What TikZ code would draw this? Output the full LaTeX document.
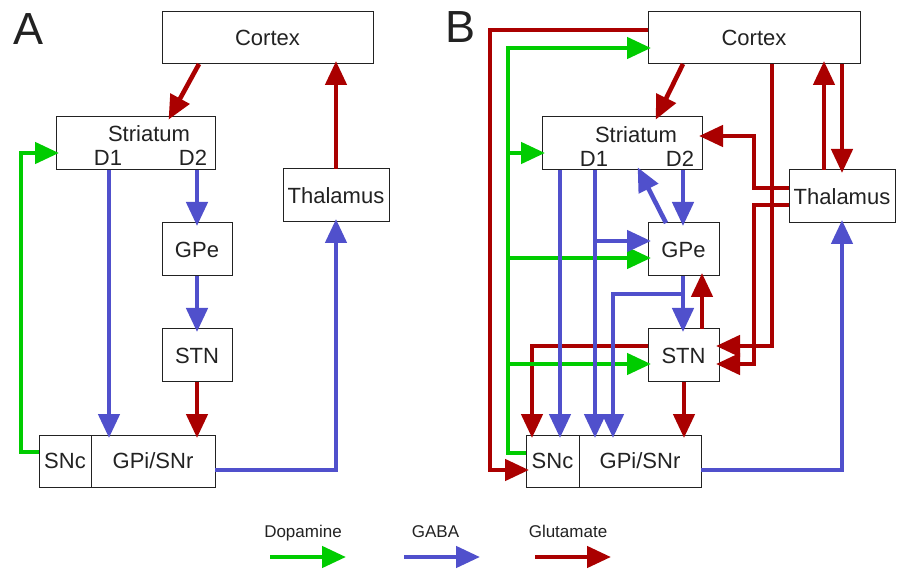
\documentclass[tikz,border=0pt]{standalone}
\usepackage{fontspec}
\setmainfont{Liberation Sans}
\usetikzlibrary{arrows.meta}
\definecolor{dopa}{RGB}{0,204,0}
\definecolor{gaba}{RGB}{80,80,204}
\definecolor{glu}{RGB}{170,0,0}
\definecolor{edge}{RGB}{34,34,34}
\begin{document}
\begin{tikzpicture}[x=1pt,y=-1pt,
  box/.style={draw=edge, line width=1pt, rectangle, inner sep=0pt, outer sep=0pt,
    anchor=north west, font=\fontsize{22}{24}\selectfont, text=edge,
    text height=15.8pt, text depth=0pt},
  lbl/.style={inner sep=0pt, outer sep=0pt, font=\fontsize{22}{24}\selectfont, text=edge,
    text height=15.8pt, text depth=0pt},
  leglbl/.style={inner sep=0pt, anchor=base, font=\fontsize{17}{19}\selectfont, text=edge},
  panel/.style={inner sep=0pt, font=\fontsize{45}{48}\selectfont, text=edge,
    text height=32pt, text depth=0pt},
  conn/.style={line width=4.6pt, -{Triangle[length=24pt,width=21pt]}, shorten >=-3pt},
  plain/.style={line width=4.6pt},
  glu/.style={draw=glu, color=glu},
  dopa/.style={draw=dopa, color=dopa},
  gaba/.style={draw=gaba, color=gaba}]
\useasboundingbox (0,0) rectangle (908,577);
\fill[white] (0,0) rectangle (908,577);

% ---------------- Panel A ----------------
\node[panel] (A-lab) at (29,29) {A};
\node[box, minimum width=211pt, minimum height=52pt] (A-ctx) at (162,12) {Cortex};
\node[box, minimum width=159pt, minimum height=53pt] (A-str) at (56,117) {};
\node[lbl] (A-strl) at (149,133.5) {Striatum};
\node[lbl] (A-d1) at (108,157.5) {D1};
\node[lbl] (A-d2) at (193,157.5) {D2};
\node[box, minimum width=106pt, minimum height=53pt] (A-tha) at (283,169) {Thalamus};
\node[box, minimum width=70pt, minimum height=53pt] (A-gpe) at (162,223) {GPe};
\node[box, minimum width=70pt, minimum height=53pt] (A-stn) at (162,329) {STN};
\node[box, minimum width=52pt, minimum height=52pt] (A-snc) at (39,435) {SNc};
\node[box, minimum width=124pt, minimum height=52pt] (A-gpi) at (91,435) {GPi/SNr};

% glutamate
\draw[conn, glu] (A-ctx.south -| 199,0) -- (A-str.north -| 170,0);
\draw[conn, glu] (A-tha.north) -- (A-ctx.south -| A-tha.north);
\draw[conn, glu] (A-stn.south) -- (A-gpi.north -| A-stn.south);
% dopamine
\draw[conn, dopa] (A-snc.west |- 0,452) -- (21,452) |- (A-str.west |- 0,153);
% GABA
\draw[conn, gaba] (A-str.south -| 109,0) -- (A-gpi.north -| 109,0);
\draw[conn, gaba] (A-str.south -| A-gpe.north) -- (A-gpe.north);
\draw[conn, gaba] (A-gpe.south) -- (A-stn.north);
\draw[conn, gaba] (A-gpi.east |- 0,470) -| (A-tha.south);

% ---------------- Panel B ----------------
\node[panel] (B-lab) at (460.5,27) {B};
\node[box, minimum width=212pt, minimum height=52pt] (B-ctx) at (648,12) {Cortex};
\node[box, minimum width=160pt, minimum height=53pt] (B-str) at (542,117) {};
\node[lbl] (B-strl) at (636,134.5) {Striatum};
\node[lbl] (B-d1) at (594,158.5) {D1};
\node[lbl] (B-d2) at (680,158.5) {D2};
\node[box, minimum width=106pt, minimum height=53pt] (B-tha) at (789,170) {Thalamus};
\node[box, minimum width=71pt, minimum height=53pt] (B-gpe) at (648,223) {GPe};
\node[box, minimum width=71pt, minimum height=53pt] (B-stn) at (648,329) {STN};
\node[box, minimum width=53pt, minimum height=52pt] (B-snc) at (526,435) {SNc};
\node[box, minimum width=122pt, minimum height=52pt] (B-gpi) at (579,435) {GPi/SNr};
\coordinate (B-dtrunk) at (508,0);
\coordinate (B-d1br) at (595,241);
\coordinate (B-gpebr) at (683,294);

% glutamate
\draw[conn, glu] (B-ctx.south -| 683,0) -- (B-str.north -| 657,0);
\draw[conn, glu] (B-ctx.west |- 0,30) -| (490,470) -- (B-snc.west |- 0,470);
\draw[conn, glu] (B-ctx.south -| 772,0) |- (B-stn.east |- 0,346);
\draw[conn, glu] (B-ctx.south -| 842,0) -- (B-tha.north -| 842,0);
\draw[conn, glu] (B-tha.north -| 824,0) -- (B-ctx.south -| 824,0);
\draw[conn, glu] (B-tha.west |- 0,188) -| (754,136) -- (B-str.east |- 0,136);
\draw[conn, glu] (B-tha.west |- 0,205) -| (754,364) -- (B-stn.east |- 0,364);
\draw[conn, glu] (B-stn.north -| 702,0) -- (B-gpe.south -| 702,0);
\draw[conn, glu] (B-stn.west |- 0,346) -| (B-snc.north -| 532,0);
\draw[conn, glu] (B-stn.south -| 684,0) -- (B-gpi.north -| 684,0);
% dopamine
\draw[conn, dopa] (B-snc.west |- 0,453) -| (B-dtrunk |- 0,48) -- (B-ctx.west |- 0,48);
\draw[conn, dopa] (B-dtrunk |- 0,153) -- (B-str.west |- 0,153);
\draw[conn, dopa] (B-dtrunk |- 0,258) -- (B-gpe.west |- 0,258);
\draw[conn, dopa] (B-dtrunk |- 0,364) -- (B-stn.west |- 0,364);
% GABA
\draw[conn, gaba] (B-str.south -| 560,0) -- (B-snc.north -| 560,0);
\draw[conn, gaba] (B-str.south -| 595,0) -- (B-gpi.north -| 595,0);
\draw[conn, gaba] (B-d1br) -- (B-gpe.west |- B-d1br);
\draw[conn, gaba] (B-str.south -| 683,0) -- (B-gpe.north -| 683,0);
\draw[conn, gaba] (B-gpe.north -| 666,0) -- (B-str.south -| 639,0);
\draw[conn, gaba] (B-gpe.south -| 683,0) -- (B-stn.north -| 683,0);
\draw[conn, gaba] (B-gpebr) -| (B-gpi.north -| 613,0);
\draw[conn, gaba] (B-gpi.east |- 0,470) -| (B-tha.south);

% ---------------- Legend ----------------
\node[leglbl] (L-dopa) at (303,537) {Dopamine};
\node[leglbl] (L-gaba) at (435.5,537) {GABA};
\node[leglbl] (L-glu) at (568,537) {Glutamate};
\coordinate (L-d1) at (270,557); \coordinate (L-d2) at (343,557);
\coordinate (L-b1) at (404,557); \coordinate (L-b2) at (477,557);
\coordinate (L-g1) at (535,557); \coordinate (L-g2) at (608,557);
\draw[conn, dopa] (L-d1) -- (L-d2);
\draw[conn, gaba] (L-b1) -- (L-b2);
\draw[conn, glu] (L-g1) -- (L-g2);
\end{tikzpicture}
\end{document}
